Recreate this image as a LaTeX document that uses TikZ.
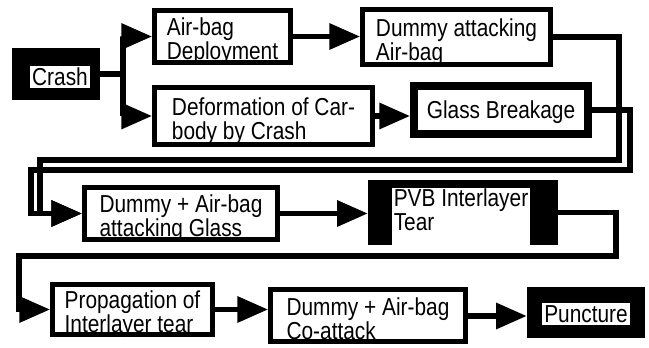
\documentclass[tikz,border=0pt]{standalone}
\usepackage{fontspec}
\setmainfont{Liberation Sans}[FakeStretch=0.85]
\usetikzlibrary{arrows.meta}
\newcommand\boxfont{\fontsize{18.4}{18}\selectfont\lineskiplimit=-20pt\relax}

\begin{document}
\begin{tikzpicture}[
  x=0.75pt, y=-0.75pt, line join=miter,
  font=\boxfont,
  box/.style={draw, line width=3.75pt, fill=white, align=left, inner sep=0pt,
    text height=35pt, text depth=0pt},
  heavybox/.style={draw, line width=6pt, fill=white, inner sep=0pt, text depth=0pt},
  blackbox/.style={fill=black, inner sep=0pt},
  hole/.style={fill=white, align=left, inner sep=0pt, text depth=0pt},
  flow/.style={line width=4pt, -{Triangle[length=23pt, width=19pt]}}]

\def\pxl{0.75pt}
\useasboundingbox (0,0) rectangle (649,348);

% ---- first stage -------------------------------------------------------
\node[blackbox, minimum width=88*\pxl, minimum height=52*\pxl] (crash) at (56,74) {};
\node[hole, minimum width=60*\pxl, minimum height=22*\pxl] (crashtxt) at (60,77) {Crash};

\node[box, minimum width=141*\pxl-3.75pt, minimum height=57*\pxl-3.75pt] (deploy) at (222.5,36.5)
  {Air-bag\\Deployment};
\node[box, minimum width=193*\pxl-3.75pt, minimum height=60*\pxl-3.75pt] (dummyab) at (456.5,37)
  {Dummy attacking\\Air-bag};
\node[box, minimum width=223*\pxl-3.75pt, minimum height=62*\pxl-3.75pt] (deform) at (263.5,116)
  {Deformation of Car-\\body by Crash};
\node[heavybox, minimum width=182*\pxl-6pt, minimum height=56*\pxl-6pt] (glass) at (501,110)
  {Glass Breakage};

% ---- second stage ------------------------------------------------------
\node[box, minimum width=198*\pxl-3.75pt, minimum height=57*\pxl-3.75pt] (dag) at (181,213.5)
  {Dummy + Air-bag\\attacking Glass};
\node[blackbox, minimum width=190*\pxl, minimum height=65*\pxl] (pvb) at (463,212.5) {};
\node[hole, text depth=10pt, minimum width=138*\pxl, minimum height=57*\pxl] (pvbtxt) at (461,216.5)
  {PVB Interlayer\\Tear};

% ---- third stage -------------------------------------------------------
\node[box, minimum width=165*\pxl-3.75pt, minimum height=55*\pxl-3.75pt] (prop) at (132.5,309.5)
  {Propagation of\\Interlayer tear};
\node[box, minimum width=200*\pxl-3.75pt, minimum height=57*\pxl-3.75pt] (coatt) at (368,316)
  {Dummy + Air-bag\\Co-attack};
\node[blackbox, minimum width=118*\pxl, minimum height=51*\pxl] (punct) at (586,312.5) {};
\node[hole, minimum width=88*\pxl, minimum height=22*\pxl] (puncttxt) at (586,314) {Puncture};

% ---- connectors --------------------------------------------------------
\coordinate (split) at (123,74);
\draw[flow] (crash.east) -- (split) |- (deploy.west);
\draw[flow] (split) |- (deform.west);
\draw[flow] (deploy.east) -- (deploy.east -| dummyab.west);
\draw[flow] (deform.east) -- (deform.east -| glass.west);

\coordinate (ra) at (619,160);
\coordinate (la) at (40,160);
\coordinate (rb) at (630,170);
\coordinate (lb) at (31,170);
\draw[flow] (dummyab.east) -| (ra) -- (la) |- (dag.west);
\draw[flow] (glass.east) -| (rb) -- (lb) |- (dag.west);

\draw[flow] (dag.east) -- (dag.east -| pvb.west);

\coordinate (rc) at (616,256);
\coordinate (lc) at (19,256);
\draw[flow] (pvb.east) -| (rc) -- (lc) |- (prop.west);

\draw[flow] (prop.east) -- (prop.east -| coatt.west);
\draw[flow] (coatt.east) -- (coatt.east -| punct.west);

\end{tikzpicture}
\end{document}
